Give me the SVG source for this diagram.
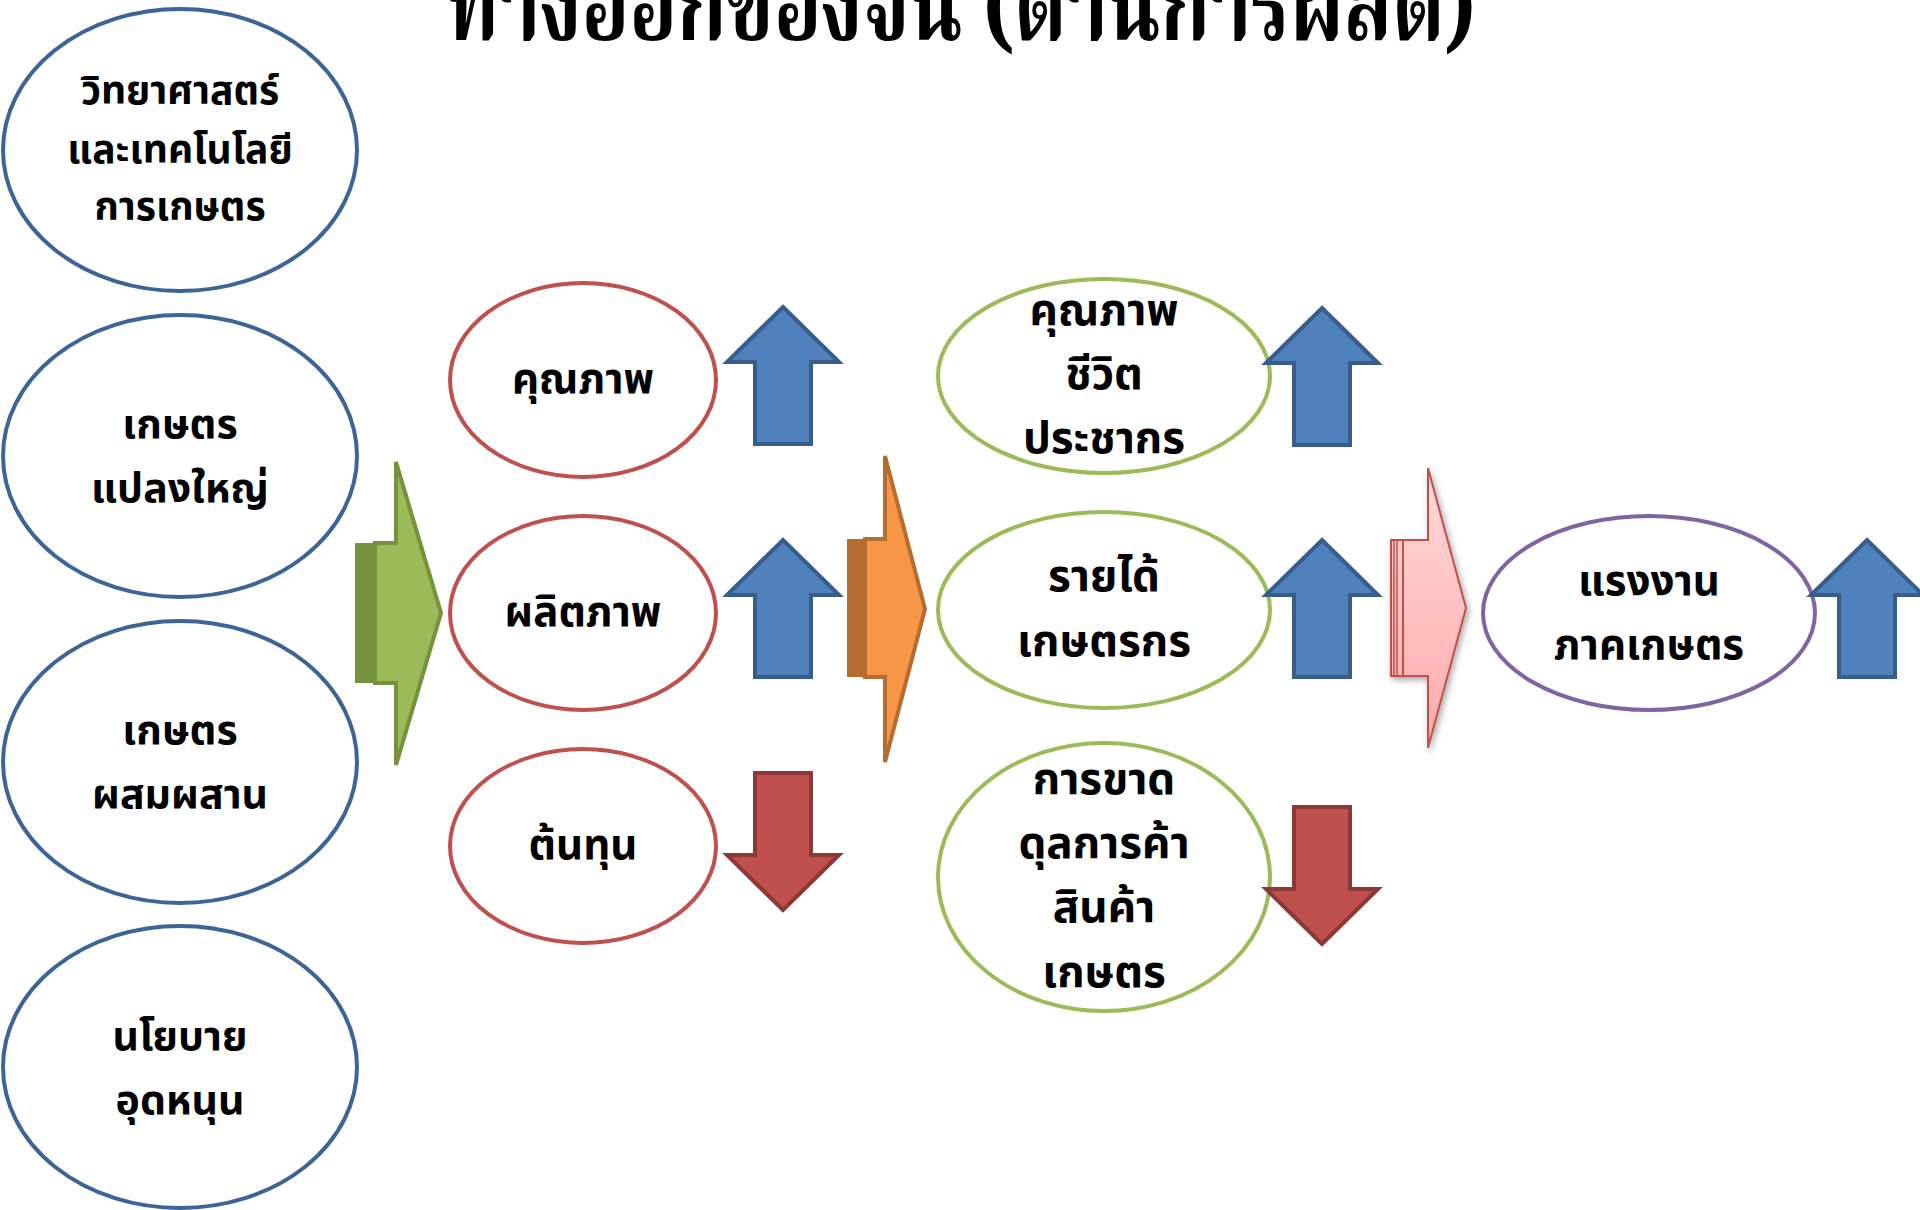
<svg xmlns="http://www.w3.org/2000/svg" width="1920" height="1210" viewBox="0 0 1920 1210">
<style>
.t{font-family:"Noto Sans Thai","Tahoma","Noto Sans","DejaVu Sans",sans-serif;font-weight:bold;font-size:42px;fill:#000;text-anchor:middle}
.s1{font-size:39px}
.s2{font-size:41px}
.s3{font-size:44px}
.title{font-family:"Noto Serif Thai","Noto Sans Thai","Noto Sans","DejaVu Sans",sans-serif;font-weight:bold;font-size:104px;fill:#000}
.eb{fill:#fff;stroke:#3c6496;stroke-width:4}
.er{fill:#fff;stroke:#c0504d;stroke-width:4}
.eg{fill:#fff;stroke:#9bbb59;stroke-width:4}
.ep{fill:#fff;stroke:#8064a2;stroke-width:4}
.up{fill:#4f81bd;stroke:#385d8a;stroke-width:4}
.dn{fill:#c0504d;stroke:#8c3836;stroke-width:4}
</style>
<defs>
<path id="arr" d="M0,-68 L56,-13 L28,-13 L28,69 L-28,69 L-28,-13 L-56,-13 Z"/>
<linearGradient id="pk" x1="0" y1="0" x2="0" y2="1">
<stop offset="0" stop-color="#ffd9d9"/>
<stop offset="1" stop-color="#ffaaaa"/>
</linearGradient>
<filter id="sh" x="-20%" y="-20%" width="140%" height="140%">
<feGaussianBlur in="SourceAlpha" stdDeviation="3"/>
<feOffset dx="2" dy="3" result="b"/>
<feComponentTransfer><feFuncA type="linear" slope="0.35"/></feComponentTransfer>
<feMerge><feMergeNode/><feMergeNode in="SourceGraphic"/></feMerge>
</filter>
</defs>
<rect width="1920" height="1210" fill="#fff"/>

<text class="title" x="446" y="40" textLength="1030" lengthAdjust="spacingAndGlyphs">ทางออกของจีน (ด้านการผลิต)</text>

<g id="connectors">
<g id="arrow-green">
<rect x="355" y="543" width="22" height="140" fill="#76923c"/>
<polygon points="375,543 396,543 396,462 441,613 396,765 396,683 375,683" fill="#9bbb59" stroke="#76923c" stroke-width="4"/>
</g>
<g id="arrow-orange">
<rect x="847" y="539" width="20" height="138" fill="#b66d31"/>
<polygon points="865,539 885,539 885,456 925,609 885,762 885,677 865,677" fill="#f79646" stroke="#b66d31" stroke-width="4"/>
</g>
<g id="arrow-pink" filter="url(#sh)">
<polygon points="1391,540 1428,540 1428,468 1466,608 1428,748 1428,676 1391,676" fill="url(#pk)" stroke="#c0504d" stroke-width="2"/>
<line x1="1394" y1="540" x2="1394" y2="676" stroke="#c0504d" stroke-width="1.5"/>
<line x1="1397" y1="540" x2="1397" y2="676" stroke="#c0504d" stroke-width="1.5"/>
<line x1="1403" y1="540" x2="1403" y2="676" stroke="#c0504d" stroke-width="2"/>
</g>
</g>

<g id="node-science">
<ellipse class="eb" cx="180" cy="150" rx="177" ry="141"/>
<text class="t s1" x="180" y="104">วิทยาศาสตร์</text>
<text class="t s1" x="180" y="163">และเทคโนโลยี</text>
<text class="t s1" x="180" y="220">การเกษตร</text>
</g>
<g id="node-largefarm">
<ellipse class="eb" cx="180" cy="456" rx="177" ry="141"/>
<text class="t s2" x="180" y="438">เกษตร</text>
<text class="t s2" x="180" y="502">แปลงใหญ่</text>
</g>
<g id="node-mixedfarm">
<ellipse class="eb" cx="180" cy="762" rx="177" ry="141"/>
<text class="t s2" x="180" y="744">เกษตร</text>
<text class="t s2" x="180" y="808">ผสมผสาน</text>
</g>
<g id="node-subsidy">
<ellipse class="eb" cx="180" cy="1067" rx="177" ry="141"/>
<text class="t s2" x="180" y="1050">นโยบาย</text>
<text class="t s2" x="180" y="1114">อุดหนุน</text>
</g>

<g id="node-quality">
<ellipse class="er" cx="583" cy="380" rx="133" ry="97"/>
<text class="t" x="583" y="393">คุณภาพ</text>
</g>
<g id="node-productivity">
<ellipse class="er" cx="583" cy="613" rx="133" ry="97"/>
<text class="t" x="583" y="626">ผลิตภาพ</text>
</g>
<g id="node-cost">
<ellipse class="er" cx="583" cy="846" rx="133" ry="97"/>
<text class="t" x="583" y="859">ต้นทุน</text>
</g>

<g id="node-life">
<ellipse class="eg" cx="1104" cy="376" rx="166" ry="97"/>
<text class="t s3" x="1104" y="325">คุณภาพ</text>
<text class="t s3" x="1104" y="389">ชีวิต</text>
<text class="t s3" x="1104" y="453">ประชากร</text>
</g>
<g id="node-income">
<ellipse class="eg" cx="1104" cy="610" rx="166" ry="98"/>
<text class="t s3" x="1104" y="591">รายได้</text>
<text class="t s3" x="1104" y="656">เกษตรกร</text>
</g>
<g id="node-deficit">
<ellipse class="eg" cx="1104" cy="877" rx="166" ry="134"/>
<text class="t s3" x="1104" y="794">การขาด</text>
<text class="t s3" x="1104" y="858">ดุลการค้า</text>
<text class="t s3" x="1104" y="922">สินค้า</text>
<text class="t s3" x="1104" y="987">เกษตร</text>
</g>

<g id="node-labor">
<ellipse class="ep" cx="1649" cy="613" rx="166" ry="97"/>
<text class="t" x="1649" y="595">แรงงาน</text>
<text class="t" x="1649" y="659">ภาคเกษตร</text>
</g>

<g id="indicators">
<use href="#arr" class="up" transform="translate(783,375)"/>
<use href="#arr" class="up" transform="translate(783,608)"/>
<use href="#arr" class="dn" transform="translate(783,842) rotate(180)"/>
<use href="#arr" class="up" transform="translate(1322,376)"/>
<use href="#arr" class="up" transform="translate(1322,608)"/>
<use href="#arr" class="dn" transform="translate(1322,876) rotate(180)"/>
<use href="#arr" class="up" transform="translate(1867,608)"/>
</g>
</svg>
